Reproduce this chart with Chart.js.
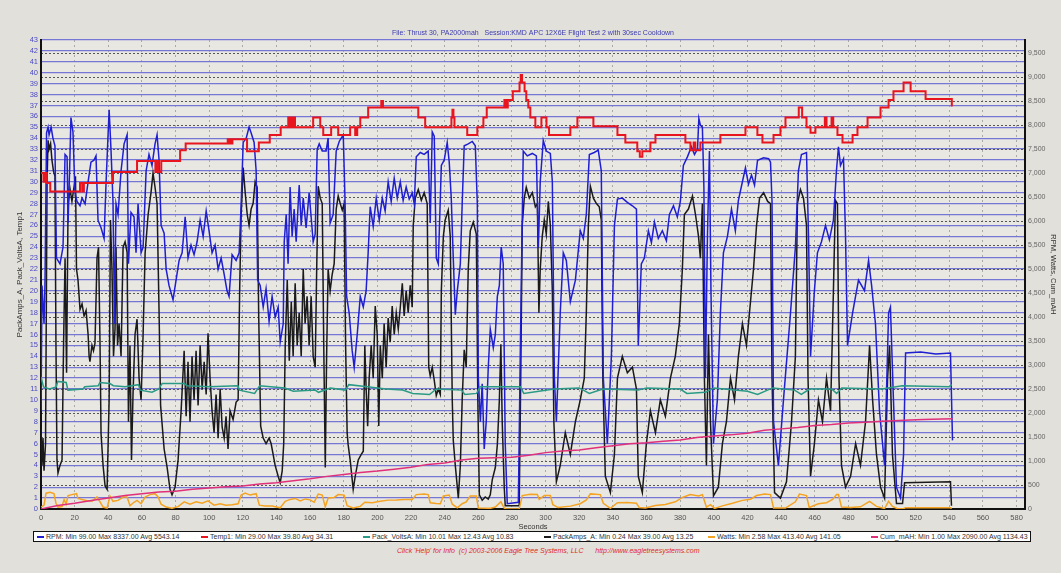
<!DOCTYPE html>
<html>
<head>
<meta charset="utf-8">
<script src="https://cdn.jsdelivr.net/npm/chart.js@4"></script>
<style>
body { margin: 0; background: #e2e0da; width: 1061px; height: 573px; overflow: hidden; position: relative; font-family: "Liberation Sans", Arial, sans-serif; }
#wrap { position: absolute; left: 0; top: 0; width: 1061px; height: 533px; }
#legend { position: absolute; left: 33px; top: 531px; width: 996px; height: 9px; border: 1.5px solid #111; background: #fff; font-size: 7px; line-height: 9px; color: #333; white-space: nowrap; }
#legend span { position: absolute; top: 0; }
#legend i { display: inline-block; width: 7px; height: 2px; vertical-align: middle; margin-right: 2px; }
#footer { position: absolute; left: 397px; top: 547px; font-size: 7px; font-style: italic; color: #e02828; white-space: pre; }
</style>
</head>
<body>
<div id="wrap"><canvas id="logChart" width="1061" height="533"></canvas></div>
<div id="legend"></div>
<div id="footer">Click 'Help' for Info  (c) 2003-2006 Eagle Tree Systems, LLC      http://www.eagletreesystems.com</div>
<script>
// RPM (right axis)
const rpmSec = [0,0.6,1.8,2.4,3.3,4.2,4.8,6,7.1,8.3,9.2,11.3,13.1,14.3,15.5,16.1,17,17.8,19,20.2,21.4,23.2,24.4,26.2,28,29.7,31.5,32.7,33.9,35.7,37.5,38.7,40.5,41.6,42.8,43.7,44.6,45.8,47.6,49.4,51.2,52,53.5,55.3,56.5,57.7,59.5,60.7,62.5,64.2,66,67.8,69,70.2,71.4,73.2,74.4,76.1,78.5,80.3,82.1,83.9,85.7,87.4,89.2,91,92.8,94.6,96.4,98.2,99.9,101.7,103.5,105.3,107.1,108.9,110.6,111.8,113.6,116,117.8,119,120.2,122,123.7,124.9,126.7,127.9,128.8,130.3,132.1,133.8,135.6,137.4,139.2,141,142.2,144,144.6,145.8,146.9,148.1,149.3,150.5,151.7,153.5,154.7,155.9,157.6,159.4,160.6,161.8,163,164.2,165.4,167.2,169.5,170.7,171.9,173.7,175.5,177.3,179.7,180.8,181.7,183.2,185,186.2,188,189.8,191.6,193.3,194.5,195.7,197.5,199.3,201.1,202.9,204.6,206.4,208.2,210,211.8,213.6,215.3,217.1,218.9,220.7,221.9,223.1,225.5,227.8,230.2,231.4,232.6,233.8,235,236.2,238,239.7,241.5,242.7,243.9,245.1,246.3,247.5,249.3,250.4,251.6,254,256.4,258.2,259.4,260,261.2,262.3,263.5,264.7,265.9,267.1,268.9,270.1,271.3,272.5,273.6,274.8,276,277.2,283.8,285,286.7,289.1,292.1,294.5,295.7,296.8,298.6,300.4,302.8,304,305.2,306.4,308.7,310.5,312.3,314.7,317.7,320.6,322.4,324.2,326,328.9,331.3,333.1,334.3,336.7,339.1,340.9,342.7,345.6,348.6,351.6,354,355.1,356.9,358.7,361.1,362.9,364.7,367,369.4,371.8,373.6,376,378.3,380.1,381.9,384.3,386.7,388.5,390.3,391.1,392,393.2,394.1,395,396.2,397.4,398.3,399.8,402.1,403.9,405.7,408.1,410.5,412.8,414.6,417,418.8,420.6,422.4,424.2,426,429.6,432.6,433.7,434.6,435.5,438.4,441.4,445.6,448.5,450.3,452.1,455.1,456.3,457.5,459.8,461.6,464,466.4,468.7,471.1,472.9,474.1,475.3,477.1,478.3,479.5,482.5,486,489.6,492,493.8,496.1,498.5,501.5,503.9,505,506.8,508.6,511,512.8,514,523,532,540.7,541.9];
const rpmVals = [2050,4660,3860,4770,7840,7960,7800,7960,7730,7570,5230,5110,5460,7390,7340,5960,7050,8160,7860,6590,6410,6320,6480,6360,6820,7230,7270,7360,6020,5860,5640,6820,8320,7500,6410,3860,6360,6140,7050,7610,7800,5110,6180,6090,5340,6360,5340,5460,7050,7390,7160,7610,7800,7270,5910,5750,5000,4660,4360,4770,5180,5340,6090,5230,5500,5300,5570,6020,5680,6210,5800,5340,5500,5000,5230,4890,4550,4430,5300,5180,5340,6360,7640,7730,7960,7840,7640,7050,4770,4660,4210,4590,3910,4430,4000,4210,3480,3860,5570,6140,5110,6710,5680,6250,5570,6750,5910,6480,5860,6590,6090,5570,5730,7500,7610,7460,7460,7730,5960,6140,7460,7660,7800,6360,4430,4090,3300,2950,3640,4430,4210,4550,5340,6300,5890,6480,6020,6480,6210,6820,6410,6890,6480,6820,6430,6710,6460,6590,6360,7340,7430,7390,7460,5960,7860,7770,5230,5110,7160,7270,7640,7230,6480,5230,4050,4550,5110,6360,7570,7610,7660,7570,6360,2730,1820,2610,1250,1820,2950,3750,3360,3640,4430,4660,5460,5110,1360,110,140,3410,7460,7360,7410,7360,5460,6820,7680,7460,7410,6820,2730,1820,4090,5340,5180,4320,4770,5800,5640,6140,7390,7430,7480,7050,2730,1360,3180,5910,6460,6480,6390,6320,6250,3410,5110,5230,5800,5550,5980,5640,5800,5590,6140,6320,6090,6410,7160,7340,7550,7390,7500,8140,8000,7960,6710,2730,5680,7460,4550,1360,2270,4090,5340,5680,6250,5800,6430,6820,7110,6770,6960,6750,7270,7320,7300,7230,6410,1820,910,2270,4090,5460,7050,7390,7430,5680,3180,4550,5340,5570,5910,5610,6020,7050,7550,7160,7300,5680,3410,4090,4770,4550,5180,4660,3860,2050,910,4090,4210,2270,450,230,1140,3250,3270,3230,3250,1430];

// Temp1 (left axis, stepped)
const tempSec = [0,1.5,2.5,3.5,5.5,23.2,24.5,25.5,42.8,57.1,68,69,70,71.5,82.7,86,111,111.6,112.2,113,113.8,122.5,129.5,136,142.5,147,147.7,148.5,149.3,150.2,151,161.8,166,167.8,172.5,176.7,183.8,186.8,188,189.8,194.5,202.3,203.3,224.3,228.4,244,244.6,245.2,245.8,253.4,259.4,263,265,275.5,276,276.5,277,277.5,280.5,284.5,285.2,286,287.5,288.5,289.7,290.9,293.9,297.5,300.5,302,314.7,318.9,328.4,342.7,347.4,354.5,356,357.5,362.3,365.3,383.1,386.1,388,389,392,403.9,418.8,425.9,428.9,435.5,439.6,442.6,450.5,452.5,455.1,457.5,460.4,466,467,470,471,473.5,476.5,482.5,485.4,491.4,499.1,503.9,506.8,512.8,517,525.9,541.5,542];
const tempVals = [30.8,30.0,30.8,29.9,29.1,29.9,29.1,29.9,30.9,31.9,30.9,31.9,30.9,31.9,32.9,33.5,33.9,33.5,33.9,33.5,33.9,32.8,33.6,34.3,35.0,35.9,35.0,35.9,35.0,35.9,35.0,35.9,35.0,34.3,35.0,34.3,35.0,34.3,35.0,35.9,36.8,37.4,36.8,35.9,35.0,35.9,36.6,35.9,35.0,34.3,35.0,35.9,36.8,37.5,36.8,37.5,36.8,37.5,38.3,39.1,39.8,39.1,38.3,37.5,36.8,35.9,35.0,35.9,35.0,34.3,35.0,35.9,35.1,34.3,33.6,32.8,32.3,32.8,33.6,34.3,33.6,32.9,33.6,32.9,33.6,34.3,35.0,34.3,33.6,34.3,35.0,35.9,36.8,35.9,35.0,34.5,35.0,35.9,35.0,35.9,35.0,34.3,33.6,34.3,35.0,35.9,36.8,37.5,38.3,39.1,38.3,37.6,37.0,37.0];

// Pack_VoltsA (left axis)
const voltSec = [0,1.5,5,9,10,15,16,25,26,34,35,41,43,50,58,59,66,70,72,85,87,100,117,118,127,130,145,150,163,165,172,181,183,194,205,215,221,231,235,250,252,259,261,285,287,296,305,320,326,334,355,360,380,384,395,400,420,426,435,448,452,457,470,473,476,500,512,540,541.5];
const voltVals = [12.1,11.2,11.0,11.2,11.7,11.6,10.9,11.0,11.2,11.3,11.6,11.5,11.3,11.2,11.4,10.9,10.7,11.0,11.5,11.5,11.3,11.2,11.3,10.9,10.6,11.3,11.1,10.8,10.9,10.7,11.1,10.9,11.4,11.2,11.0,10.9,10.6,10.5,11.0,10.9,10.5,10.6,11.2,11.2,10.6,10.8,11.0,11.1,10.6,11.0,10.9,11.1,11.0,10.6,10.7,11.1,10.8,10.5,11.1,10.9,10.5,11.0,11.0,10.6,11.1,11.0,11.3,11.2,11.4];

// PackAmps_A (left axis)
const ampSec = [0,0.6,1.2,1.8,2.7,3.6,4.2,4.8,5.7,6.5,7.4,8.3,8.9,9.5,10.1,11.3,12.5,13.4,14.3,15.2,16.1,17.3,18.4,19.6,20.5,21.1,22,23.2,24.4,25.6,26.8,28,28.6,29.1,30.3,31.2,32.1,33.3,34.2,35.1,35.7,36.9,38.1,39.3,40.5,41.3,42.2,43.1,44,44.6,45.5,46.4,47.6,48.8,50,51.2,52,52.9,53.8,54.7,55.9,57.1,58.3,59.5,60.7,61.9,63.7,65.4,66.6,67.8,69,70.2,71.1,73.2,75,76.7,77.9,79.7,81.5,83.3,85.1,86.3,87.4,88.6,89.8,91,92.2,93.4,94.6,95.8,97,98.2,99.3,100.5,101.7,102.9,104.1,105.3,106.5,107.7,108.9,110,111.2,112.4,114.2,116,117.2,118.1,119,120.2,121.4,122.6,123.7,124.9,126.1,127.3,128.5,129.4,130.6,132.1,133.8,135.6,136.8,138,139.2,141,142.2,143.4,144.3,145.2,146.4,147.6,148.8,149.9,151.1,152.3,153.5,154.7,155.9,157,158.2,159.4,160.6,161.8,163,163.9,164.8,166,167.2,168.1,169,169.8,170.7,171.9,173.1,174.3,175.5,176.7,177.9,179.1,180.2,181.1,182,182.6,183.8,185.6,186.8,188.6,190.4,191.6,192.5,193.3,194.2,195.1,196.3,197.5,198.7,199.9,200.8,201.7,202.9,204,205.2,206.4,207.6,208.8,210,211.2,212.4,213.6,214.8,215.9,217.1,218.3,219.5,220.7,221.3,222.5,224.3,226.1,227.8,229.6,230.5,231.4,232.6,233.8,235,236.2,237.4,238,239.2,240.3,242.1,243.3,244.5,245.1,246.3,247.5,248.1,249.3,250.4,251.6,252.8,254,255.2,257,258.8,259.7,260.6,262.3,264.1,265.9,267.1,268.3,270.1,271.3,272.5,273.4,274.2,275.4,276,284.3,285.2,286.1,287.3,288.5,290.3,292.1,293.9,295.1,296,296.8,298,299.2,300.4,301.6,302.8,304,304.9,306.4,308.7,311.7,314.7,317.7,320.6,323,324.2,325.4,326.6,328.4,330.2,331.9,333.1,334,335.5,338.5,340.9,342.7,345.6,348.6,351.6,354,355.1,357.5,359.9,362.3,365.3,368.2,371.2,374.2,377.1,379.5,381.3,382.5,384.9,387.3,389.1,390.9,392,393.2,394.4,395.6,396.8,398,399.8,402.7,405.1,407.5,409.9,412.3,414.6,417,419.4,421.8,423.6,425.4,427.2,429.6,432,433.7,434.6,436.1,439.6,443.2,446.2,448.5,449.7,451.5,453.3,455.1,456,457.5,459.8,462.2,464.6,467,469.4,471.1,472.3,473.5,474.4,475.9,478.3,481.3,484.3,487.2,490.2,492.6,494.4,496.7,499.1,501.5,503.3,504.5,506.2,508.6,512.2,513.4,540.7,541.3];
const ampVals = [7.5,4,6.5,3.5,6,30,33.8,33,33.5,32,31,30.5,15,4.5,3.3,4,4.5,15,23,12.5,28,29.3,28.2,29.5,30.5,22,21,18.3,18.8,17.7,18.2,16,14,13.5,15,14.5,15.2,23,24,15,6.9,4,2.1,1.8,10,26.5,22,14,16.5,24,15,17,14,24,24.5,23.5,8,15,4.5,10.5,16,17.4,12,10,16,23.5,27,29,30.8,29.5,28,18,9.5,5.5,3.8,1.8,1.3,2,4.5,9,14.5,8.5,13.5,8,14,10,14.5,9.5,15,11,13.5,10.5,16.1,12,9,7,10.5,6.5,11,7.5,6.5,8.5,5.5,9,8.2,9.8,10,20,27,31.3,29,27,26,27.5,28,30,29.5,18,7.6,6.5,6,6.5,6,5,4,3,2.4,3.5,6,15,21,13.6,19,14,20.7,15,18,14,22,17,19.5,15,19.5,14,13,22,29.6,28.5,28,15,3.8,14,22,20,21.5,22.5,27.5,28.7,28,27.4,28,15,7,5.9,4.5,1.8,3,4.5,5,5.3,15,11,7.6,12,15,12,18.6,16,7.6,15,12,17,13,17.5,15.3,18.6,16,18,16.5,18.5,20.7,17.7,20,18,20.5,18.5,26,28.5,29.3,28.3,29,28,13,12.2,13,11.8,10.4,11,10.5,20,25,26.5,27.4,25,10,6.3,4,2,1,4,10,14.6,13,22,25.5,26.3,25.2,10,1.3,0.8,1.1,0.9,1.3,2.7,3.8,5.9,10,15.1,8,2,0.3,0.3,12,26,28.5,29.5,28.5,29,27.7,28,18,22,25,26.5,25.2,28.2,26,20,8,2.5,4,7,5,8,10,12,18,26,29.6,28.5,28,27.7,26.5,12,3,1.5,5,12,14,12.5,13,11,3,1.5,6,9,7,10,8.5,12,14,17,22,27,27.5,28.7,27,25,23,28,12,4,16,8,1.2,2,6,8,12,10,14,17,15,19,22,26,28.5,29,28.2,28,12,1.5,1,2.5,8,14,28,29.3,28.5,26,12,3,6,10,8,12,9,20,28.3,28,12,4,2,3,6,4,8,15,10,5,2,1,12,15,5,0.5,0.5,2.4,2.5,0.3];

// Watts (right axis)
const wattSec = [0,1.8,3,5.4,7.7,8.9,10.1,12.5,13.7,14.9,16.1,18.4,21.1,22,24.4,27.4,30.3,33.3,35.1,36.9,39.3,41,42.8,45.8,48.8,51.2,52.9,55.3,57.1,59.5,61.9,64.8,67.8,69.6,71.4,74.4,77.9,81.5,85.1,88.6,92.2,95.8,99.3,102.9,106.5,110,113.6,117.2,119,121.4,124.3,127.9,129.8,133.3,137.4,142.2,145.2,148.1,151.1,154.1,157,160,162.4,164.8,167.2,169,170.7,174.3,176.7,180.2,182,185.6,189.8,192.5,196.9,201.7,206.4,211.2,215.9,220.7,223.1,227.8,230.2,231.4,235,237.4,239.2,242.7,244.5,247.5,250.4,252.8,255.2,258.8,260,267.1,270.1,273.4,275.4,276.6,284.3,286.1,291,295.1,296.2,299.2,302.8,304.3,307.5,314.7,320.6,324.2,326.6,332.5,334.3,338.5,342.7,348.6,354,355.7,359.3,365.3,371.2,377.1,381.3,386,390.9,393.2,395.6,398,400.4,405.1,411.1,417,421.8,425.4,430.2,433.7,435.5,442.6,448.5,450.9,455.1,456.7,462.2,467,470.6,473,474.1,475.9,481.3,487.2,492.6,496.7,501.5,503.9,506.2,509.2,512.8,514,540.7,541.3];
const wattVals = [40,80,330,350,320,120,40,50,200,100,280,300,320,220,200,170,160,250,150,40,20,270,160,180,250,250,70,140,180,110,250,300,320,250,100,40,15,50,150,100,150,120,170,80,110,80,90,110,290,330,290,320,80,65,60,25,160,200,220,170,210,190,140,310,290,45,230,240,300,290,70,20,55,140,130,160,185,190,200,200,300,310,300,130,115,110,270,290,100,25,110,150,270,270,20,15,40,150,20,2.6,3,280,305,300,200,280,280,90,30,60,110,190,315,300,120,15,130,135,120,30,20,75,95,150,240,300,270,300,40,90,12,65,120,180,205,280,310,300,20,20,150,310,280,30,110,130,200,300,300,40,30,45,160,55,10,160,55,5,5,27,27,3];

// Cum_mAH (right axis)
const mahSec = [0,10,20,30,40,50,60,70,80,90,100,110,120,130,140,150,160,170,180,190,200,210,220,230,240,250,260,270,280,290,300,310,320,330,340,350,360,370,380,390,400,410,420,430,440,450,460,470,480,490,500,510,520,530,542];
const mahVals = [1,75,120,175,230,280,320,355,370,410,440,465,480,520,545,590,630,680,720,760,790,830,870,930,960,1020,1060,1070,1080,1120,1175,1210,1230,1275,1320,1360,1380,1410,1440,1490,1520,1545,1580,1640,1670,1700,1740,1760,1790,1810,1830,1845,1860,1870,1880];

// axis tick values
const secTicks = [0,20,40,60,80,100,120,140,160,180,200,220,240,260,280,300,320,340,360,380,400,420,440,460,480,500,520,540,560,580];
const leftTicks = Array.from({ length: 44 }, (_, i) => i);
const rightTicks = [0,500,1000,1500,2000,2500,3000,3500,4000,4500,5000,5500,6000,6500,7000,7500,8000,8500,9000,9500];

// legend text
const legendItems = [
  ['RPM:  Min 99.00 Max 8337.00 Avg 5543.14', '#1f1fd0', 3],
  ['Temp1:  Min 29.00 Max 39.80 Avg 34.31', '#e8141e', 167],
  ['Pack_VoltsA:  Min 10.01 Max 12.43 Avg 10.83', '#2a9a86', 329],
  ['PackAmps_A:  Min 0.24 Max 39.00 Avg 13.25', '#1a1a1a', 510],
  ['Watts:  Min 2.58 Max 413.40 Avg 141.05', '#f4a322', 674],
  ['Cum_mAH:  Min 1.00 Max 2090.00 Avg 1134.43', '#e0307a', 837]
];

const legendBox = document.getElementById('legend');
legendItems.forEach(item => {
  const s = document.createElement('span');
  s.style.left = item[2] + 'px';
  s.innerHTML = '<i style="background:' + item[1] + '"></i>' + item[0];
  legendBox.appendChild(s);
});

function pts(sec, vals) {
  return sec.map((t, i) => ({ x: t, y: vals[i] }));
}

function fixedTicks(list) {
  return scale => { scale.ticks = list.map(v => ({ value: v })); };
}

// fills the plot area
const plotBg = {
  id: 'plotBg',
  beforeDraw(chart) {
    const { ctx, chartArea: a } = chart;
    ctx.save();
    ctx.fillStyle = '#e9e7e2';
    ctx.fillRect(a.left, a.top, a.right - a.left, a.bottom - a.top);
    ctx.restore();
  }
};

Chart.defaults.font.family = '"Liberation Sans", Arial, sans-serif';

new Chart(document.getElementById('logChart'), {
  type: 'line',
  data: {
    datasets: [
      { label: 'Temp1', data: pts(tempSec, tempVals), borderColor: '#e8141e', borderWidth: 2, stepped: true, yAxisID: 'y' },
      { label: 'Cum_mAH', data: pts(mahSec, mahVals), borderColor: '#e0307a', borderWidth: 1.5, yAxisID: 'y1' },
      { label: 'Pack_VoltsA', data: pts(voltSec, voltVals), borderColor: '#2a9a86', borderWidth: 1.5, yAxisID: 'y' },
      { label: 'Watts', data: pts(wattSec, wattVals), borderColor: '#f4a322', borderWidth: 1.5, yAxisID: 'y1' },
      { label: 'RPM', data: pts(rpmSec, rpmVals), borderColor: '#1f1fd0', borderWidth: 1.5, yAxisID: 'y1' },
      { label: 'PackAmps_A', data: pts(ampSec, ampVals), borderColor: '#1a1a1a', borderWidth: 1.5, yAxisID: 'y' }
    ]
  },
  options: {
    responsive: false,
    animation: false,
    elements: { point: { radius: 0 }, line: { tension: 0 } },
    layout: { padding: 0 },
    plugins: {
      legend: { display: false },
      tooltip: { enabled: false },
      title: {
        display: true,
        fullSize: false,
        text: 'File: Thrust 30, PA2000mah   Session:KMD APC 12X6E Flight Test 2 with 30sec Cooldown',
        color: '#3a3ab0',
        font: { size: 7, weight: 'normal' },
        padding: { top: 28.8, bottom: 2.8 }
      }
    },
    scales: {
      x: {
        type: 'linear',
        min: 0,
        max: 585,
        afterBuildTicks: fixedTicks(secTicks),
        ticks: { autoSkip: false, maxRotation: 0, color: '#555', font: { size: 7.5 }, padding: 4 },
        grid: { color: '#a9a9a9', lineWidth: 1, drawTicks: false },
        border: { color: '#111', width: 2, dash: [2, 3] },
        title: { display: true, text: 'Seconds', color: '#333', font: { size: 7.5 }, padding: { top: 0, bottom: 1.5 } },
        afterFit(scale) { scale.height = 24; }
      },
      y: {
        position: 'left',
        min: 0,
        max: 43,
        afterBuildTicks: fixedTicks(leftTicks),
        ticks: { autoSkip: false, color: '#4a4ac4', font: { size: 7.5 }, padding: 3 },
        grid: { color: '#7676d4', lineWidth: 1.3, drawTicks: false },
        border: { color: '#111', width: 2 },
        title: { display: true, text: 'PackAmps_A, Pack_VoltsA, Temp1', color: '#333', font: { size: 8 }, padding: { top: 15 } },
        afterFit(scale) { scale.width = 41; }
      },
      y1: {
        position: 'right',
        min: 0,
        max: 9775,
        afterBuildTicks: fixedTicks(rightTicks),
        ticks: { autoSkip: false, color: '#666', font: { size: 7 }, padding: 3,
          callback: v => v.toLocaleString('en-US') },
        grid: { color: '#555', lineWidth: 1, drawTicks: false },
        border: { color: '#111', width: 2, dash: [2, 2] },
        title: { display: true, text: 'RPM, Watts, Cum_mAH', color: '#333', font: { size: 7.5 }, padding: { top: 3.5 } },
        afterFit(scale) { scale.width = 36; }
      }
    }
  },
  plugins: [plotBg]
});
</script>
</body>
</html>
